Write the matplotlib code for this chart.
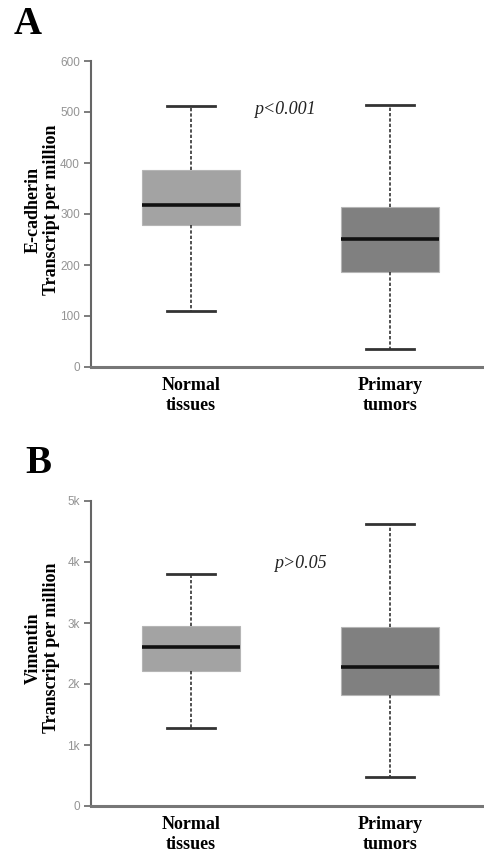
import matplotlib
matplotlib.use("Agg")
import matplotlib.pyplot as plt
from matplotlib.ticker import FixedLocator, FixedFormatter

# ---- data ----
categories = ["Normal\ntissues", "Primary\ntumors"]

# Panel A: E-cadherin (whislo, q1, median, q3, whishi)
ecad_whislo = [110, 36]
ecad_q1 = [278, 187]
ecad_med = [318, 250]
ecad_q3 = [386, 314]
ecad_whishi = [511, 514]

# Panel B: Vimentin
vim_whislo = [1280, 470]
vim_q1 = [2220, 1820]
vim_med = [2610, 2280]
vim_q3 = [2950, 2930]
vim_whishi = [3800, 4620]

ecad_ticks = [0, 100, 200, 300, 400, 500, 600]
ecad_ticklabels = ["0", "100", "200", "300", "400", "500", "600"]
vim_ticks = [0, 1000, 2000, 3000, 4000, 5000]
vim_ticklabels = ["0", "1k", "2k", "3k", "4k", "5k"]

box_colors = ["#a3a3a3", "#808080"]

W, H = 484, 851
fig = plt.figure(figsize=(W / 100, H / 100), dpi=100)

serif = ["Liberation Serif", "DejaVu Serif"]
sans = ["Liberation Sans", "DejaVu Sans"]


def panel(rect, lo, q1, med, q3, hi, ticks, ticklabels, ylim, ylabel, ptext, pxy, letter, letter_xy, ylab_y):
    ax = fig.add_axes(rect)
    stats = []
    for i in range(len(categories)):
        stats.append(dict(whislo=lo[i], q1=q1[i], med=med[i], q3=q3[i], whishi=hi[i], fliers=[]))
    bp = ax.bxp(stats, positions=[1, 2], widths=0.49, patch_artist=True, showfliers=False,
                capwidths=0.24,
                medianprops=dict(color="#111111", linewidth=2.6),
                whiskerprops=dict(color="#333333", linewidth=1.2, linestyle=(0, (2, 1.2))),
                capprops=dict(color="#333333", linewidth=2.0),
                boxprops=dict(linewidth=0.8))
    for patch, c in zip(bp["boxes"], box_colors):
        patch.set_facecolor(c)
        patch.set_edgecolor("#b5b5b5")
    ax.set_xlim(0.497, 2.472)
    ax.set_ylim(*ylim)
    ax.yaxis.set_major_locator(FixedLocator(ticks))
    ax.yaxis.set_major_formatter(FixedFormatter(ticklabels))
    ax.set_xticks([1, 2])
    ax.set_xticklabels(categories, fontfamily=serif, fontweight="bold", fontsize=13,
                       linespacing=1.22)
    ax.tick_params(axis="x", length=0, pad=7)
    ax.tick_params(axis="y", length=5, width=1.2, color="#666666", labelcolor="#949494",
                   labelsize=8.5, pad=3)
    for lab in ax.get_yticklabels():
        lab.set_fontfamily(sans)
    for s in ["top", "right"]:
        ax.spines[s].set_visible(False)
    ax.spines["left"].set_color("#666666")
    ax.spines["left"].set_linewidth(1.5)
    ax.spines["bottom"].set_color("#777777")
    ax.spines["bottom"].set_linewidth(2.2)
    ax.text(pxy[0], pxy[1], ptext, fontfamily=serif, fontstyle="italic", fontsize=13,
            ha="center", va="center", color="#222222")
    fig.text(42 / W, 1 - ylab_y / H, ylabel, rotation=90, ha="center", va="center",
             fontfamily=serif, fontweight="bold", fontsize=13, linespacing=1.1)
    fig.text(letter_xy[0] / W, 1 - letter_xy[1] / H, letter, ha="left", va="center",
             fontfamily=serif, fontweight="bold", fontsize=28)
    return ax


panel([91 / W, 1 - 367 / H, (W - 91) / W, 306 / H],
      ecad_whislo, ecad_q1, ecad_med, ecad_q3, ecad_whishi,
      ecad_ticks, ecad_ticklabels, (0, 600),
      "E-cadherin\nTranscript per million", "p<0.001", (1.47, 504), "A", (14, 25), 210)

panel([91 / W, 1 - 806 / H, (W - 91) / W, 305 / H],
      vim_whislo, vim_q1, vim_med, vim_q3, vim_whishi,
      vim_ticks, vim_ticklabels, (0, 5000),
      "Vimentin\nTranscript per million", "p>0.05", (1.55, 3980), "B", (25, 464), 648)

fig.savefig("out.png", dpi=100)
